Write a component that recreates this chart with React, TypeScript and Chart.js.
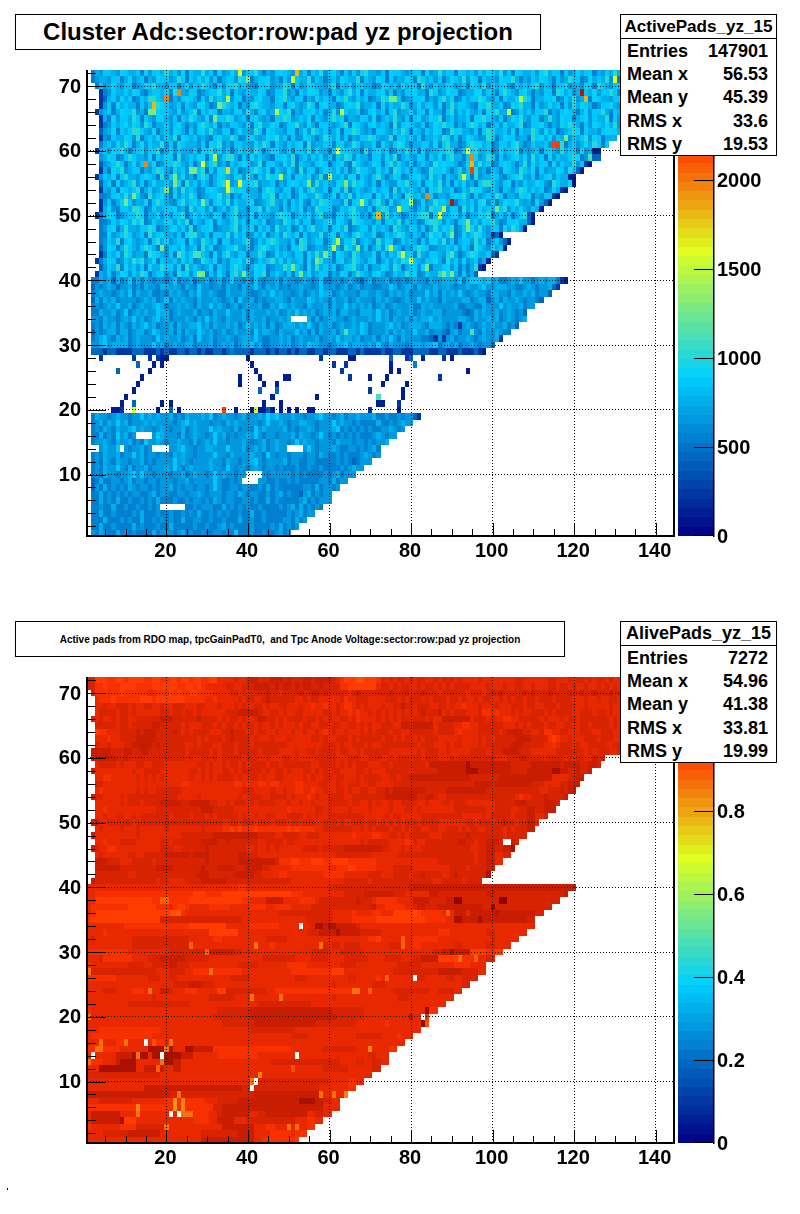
import { useEffect, useRef } from "react"
import { Chart, registerables } from "chart.js"

Chart.register(...registerables)

const xTicks = [20, 40, 60, 80, 100, 120, 140]
const yTicks = [10, 20, 30, 40, 50, 60, 70]
const adcScaleTicks = [0, 500, 1000, 1500, 2000]
const aliveScaleTicks = [0, 0.2, 0.4, 0.6, 0.8]

// level tables: one character per pad picks an entry, "." = empty, spaces only keep columns readable
const adcLevels = [130, 260, 420, 570, 670, 770, 860, 930, 1040, 1280]
const aliveLevels = [0.81, 0.865, 0.91, 0.935, 0.96, 0.98, 1.005, 1.03, 1.065, 1.11]

// last pad of each row, row 72 first (rows 28 - 20 only have the single pads below)
const adcRowEnds = [
  131, 131, 131, 131, 131, 131, 131, 131, 131, 131, 130, 128, 126, 126, 124, 122, 120, 120, 118, 116, 114, 112, 110, 110, 108, 102, 104, 103, 101, 99, 98, 96,
  118, 116, 114, 112, 110, 108, 108, 106, 104, 102, 100, 98,
  0, 0, 0, 0, 0, 0, 0, 0, 0,
  82, 80, 78, 76, 74, 72, 72, 70, 68, 66, 64, 62, 60, 60, 58, 56, 54, 52, 50,
]
const aliveRowEnds = [
  131, 131, 131, 131, 131, 131, 131, 131, 131, 131, 131, 131, 127, 126, 124, 122, 121, 120, 118, 116, 115, 113, 111, 110, 108, 106, 105, 104, 102, 100, 99, 97,
  120, 118, 116, 114, 112, 110, 110, 108, 106, 104, 102, 100, 98, 98, 96, 94, 92, 90, 88, 86, 84, 84,
  82, 80, 78, 76, 74, 74, 72, 70, 68, 66, 64, 62, 62, 60, 58, 56, 54, 52,
]

// first entry is row 72, last is row 1
const adcRows = [
  ".354665476 5563746658 5647365585 6374575646 6853546765 4756365846 7536464785 5463766545 6637458566 3765647576 5846376556 4785663645 7566354658 5476356645",
  ".345546635 7456354766 4586365757 4635664875 3566745364 7655846535 6476558365 4763645576 3865646357 6584763655 4766853546 5765364586 6347565846 3567465564",
  "..36457546 6345768554 6635746586 5364778565 4366745586 3645765546 8365746655 3476564756 6385465576 4563765846 5674365657 8465366745 5476386546 6745365585",
  "...1346556 5764356657 3865476345 6685736546 5576346684 5365776453 6546857365 5674635466 7553864576 6345577465 3686546753 5466387564 5365746686 3557465466",
  "...1256475 6346588657 3546765364 8565746635 4675536785 4663547565 3768546563 4587656345 6673546857 3465668754 6365574863 5566734658 4563765546 6835746563",
  "...1463756 5536465876 4563654775 3468656354 7865546636 7545863675 5346768455 6374655863 5746647358 5665437685 5634768553 6457563648 5765346675 4863576645",
  "..14563576 6845363766 5474568365 7635546648 5367455768 3546675635 8476556346 7563684557 4663755368 4657546376 8556347564 6683546765 3574668536 5467456365",
  "...1537466 5863654775 4636586547 3566874563 6754536687 4565736546 8673554664 7356585463 6745768356 4556377865 4635768546 6358547663 5674655836 4765365546",
  "...1346567 5764863556 4675354686 5735466547 3685576346 6854753665 4568376546 7565384676 5463576866 3546875635 6475568346 6753547686 5364765758 4635665476",
  "...2457365 6886547356 4765364675 8546635755 4863765546 6357486564 5736687545 3665475863 6546576348 6755463687 5564736558 6475634568 7365546776 5843665547",
  "...1436557 6483565746 5837656454 3675586346 7545768563 6447653586 5746354668 7545836657 4635565874 6357654486 3576645538 6757465346 5684763555 6746354858",
  "...3564758 6357465584 6376555463 7684536655 4758636546 5673845566 3674586455 6375468753 5566473685 5346877563 4665785346 5564768356 4575863645 5367486556",
  "..15647685 3567466835 7465546376 8564635756 4863577546 3665847553 6476655384 6756346585 6374556687 3465785563 4756683545 6367548566 3745668456 5374865546",
  "...4576346 8655473657 6384565773 6546885364 7565436675 8356465746 3658746553 6647583565 4763657468 5536774586 3645675748 5637465568 7346557586 4635766548",
  "...2456863 5746557346 6875463565 7845365676 4583665475 8365546763 5674386545 7636857546 3565486766 5347658563 4676535847 5663746558 4673565846 5376654485",
  "...1537684 5663546875 3756465683 6477556345 6865736547 5384663576 5746358665 4756387564 6534866753 5746684536 5376548657 3645576486 3565747658 4536675463",
  "..14657368 5546765384 6657453686 3576546748 5365867456 3665745836 5564773654 6853576346 6754856365 4766384557 6435678546 3567465583 6745656348 5763654576",
  "...2563745 6846357556 4673856465 3578645366 7845563546 7656348565 4763586754 6365447685 5636758463 6574536886 5467354655 7643865576 3465847563 5546763658",
  "...1546376 5683574566 3748565346 7655386764 5536875466 3574685563 6748356545 7566384657 5463768556 3465877546 5365468756 5634758654 6375546863 5674456385",
  "...3346758 5664385675 3746586345 6685735466 5547683656 3476558645 7365846566 3757465388 5646735546 7685364565 8635547673 5466385746 5563748656 4365786545",
  "...1463578 6455736865 4368567546 3675846556 7345685463 6574365876 5548367564 6853745665 3474586657 3565647846 3576685453 7465563865 7456346785 5463667548",
  "...1574366 5886347556 6745385664 7356468553 6684755364 6573548666 3465785546 3687455765 3564867546 6385747565 3684657546 5735566384 6745863565 5473765648",
  "..13576345 6687355746 4668357565 4763568454 7365546876 3565746845 3675686453 6748565346 5788364556 7463557683 5646357854 6635765846 3574665385 6745563466",
  "...3346576 5868346557 6475836546 7365468563 6657345486 5746635568 4765387655 4636758465 5347886465 3675564768 5346675548 6357465863 5467635574 8653465766",
  "...3467358 5546687345 6756483566 7345568465 7365648556 3474685563 6758345664 7565386547 6463585768 3465758546 6375864565 3746558346 7655386475 4563658467",
  "...3374568 6456385675 5463788546 3665847563 4657356486 5736455846 7365468655 7346568754 6535867465 3475687546 3654568735 6486345567 7546358675 5464736586",
  "...3465836 7545636857 4566375486 5736645568 3465786554 6387456635 7546683565 4857634656 5364775846 3566485735 6454768365 5463867546 3576548656 4736657485",
  "...2476358 6546875364 6657456385 7345668546 3578656453 6687345546 7538656463 5748665354 6876345565 7465386547 5634765846 3567485656 3474658365 7546865346",
  "...1365748 6455387654 6347568565 3746854663 5586347565 4663758546 3765486455 7364658567 3854665476 5346875563 4576386455 6745863565 3476548665 7354656846",
  "..13576346 5868457365 5647563486 5735466758 3465685746 5563746855 3674586546 7356465873 6546675385 6474563568 7546358647 5663745586 3576546486 3655747368",
  "...2465837 5646375586 6473856545 7365468653 5767345586 4653748565 6346785463 5576486356 6478355674 6353586746 5563748654 3665475863 5746566348 7565436678",
  "..15463576 4658735664 5386746553 6475368565 4768356546 3685745663 5476358654 6753465586 7346558674 5363546865 7436556784 6353675546 8465737556 3465866745",
  // rows 40 - 30
  ".33545253 4635354344 3463445244 5345346443 5364344535 4434543463 3443454324 5344534343 4544354455 5463566656 4533454644 3454553344",
  ".24345424 4534354435 5454354364 4344354435 4464354534 3445443464 4434534534 4334465345 5354445445 4344544564 4555443345 4344543454",
  ".34544345 4635445334 3545435464 4543354445 4334546454 4345345465 5345444355 4454354545 3444645354 5464345443 5544354454 5344544343",
  ".25354534 4443454534 6354544354 4454345364 4534344554 3544465454 3544534544 4354543345 4464544354 4445534552 4535445434 4344534454",
  ".34345464 4534544565 3445454354 4645434534 5445335465 4544354445 3544645454 5345345444 5335454444 4533443354 4464544534 4453445354",
  ".33544534 6345454465 5345444534 4354464445 3544454534 5464545345 4535544355 5464534544 5345445534 4443235454 4534543445",
  ".44354434 5464534564 5344454354 6454354445 3544534454 5464453534 5544345444 5464535445 3545564544 4455435445 4534543454",
  ".34354535 4354564534 4535445564 5354454534 6454535345 5545464354 5345445465 3444564534 5554355543 4314543454 5445344354",
  ".24345535 5345534654 4535354465 4534534544 5364554354 4464535354 4535455465 3444535454 4644534432 4534454354 4543445454",
  ".34564354 5345444364 5445345364 4534454345 5464334454 5345444534 5464554534 4535464354 4443321414 5344543454 4534454344",
  ".44564555 5345444645 3454455344 4534545345 5645334454 5345465544 3455645554 5464354443 4554556345 4534454344 4545344534",
  // row 29, the sparse rows 28 - 20 are in adcSinglePads
  ".22212211 1122211121 2112212212 1122123222 2122212122 1212211221 2211122121 1112112211 1222211221 1121112121",
  "", "", "", "", "", "", "", "", "",
  // rows 19 - 1
  ".35443454 4344645454 4534354445 4634544345 3445475644 4544344564 4345344544 4533433434 4344343434",
  ".34535464 5344454544 4434564544 4344354544 4443464454 3445544344 4645443433 3353343454 4344544343",
  ".34354354 4564544345 4344534544 4645443534 4364544445 3434454344 4563434343 4334454344",
  ".33534364 5344344465 4443534544 3464534344 5464344344 4535443464 3434343433 3454344343",
  ".34454354 4534364454 3445443534 5464434445 4334534544 3464544344 4354443443 4344534344",
  ".33454464 4344534454 3445644344 5544464445 3454534544 4443464344 4543344343 4534344354",
  ".34354453 4464534434 4354544344 4464435444 4544364344 3444344354 3343433345 4344534344",
  ".34354354 4344534344 4464543444 4544354434 4564344445 3443344333 3343432344 4534344354",
  ".34354464 3534453444 5464345444 4544364344 3454344343 3343343343 3334345443",
  ".34354434 4564644344 4344534544 3464544344 4464434444 4343433334 3453444344",
  ".23533443 4534434434 4434453444 4464334344 3534433433 4343333344 3534434344",
  ".24353434 3543443434 4534344344 3464334434 4334353433 3333443534 4344353434",
  ".33534343 4344334534 4334434454 3444344354 3443343453 4332453434 4353443434",
  ".33534353 3433434353 3343343443 4354344334 4343353433 3334534344 4345344353",
  ".33433533 4334334343 3533433434 4433534343 4334333343 4535343434",
  ".33533433 3343533343 3433434353 3434343343 3533433333 4345344353",
  ".33353334 3433533434 3433533443 3433433353 3433433334 4353434344",
  ".33533433 3353433343 3533333433 4334534333 3433334353 4344534343",
  ".43543353 4343333534 4434534334 3344343633 3433433453 4344353434",
].map((row) => row.replace(/ /g, ""))

// sparse and stand-out pads of the ADC panel: row, pad, value
const adcSinglePads: number[][] = [
  [28, 4, 260], [28, 12, 260], [28, 16, 260], [28, 18, 260], [28, 19, 130], [28, 20, 130], [28, 40, 130], [28, 58, 260], [28, 65, 130], [28, 66, 130], [28, 75, 420], [28, 79, 260], [28, 80, 420], [28, 83, 130], [28, 88, 260], [28, 90, 130],
  [27, 13, 420], [27, 17, 130], [27, 19, 130], [27, 41, 130], [27, 61, 260], [27, 64, 260], [27, 75, 130], [27, 81, 540],
  [26, 8, 420], [26, 16, 130], [26, 42, 130], [26, 63, 260], [26, 75, 130], [26, 77, 130], [26, 94, 130],
  [25, 14, 130], [25, 38, 130], [25, 43, 130], [25, 49, 130], [25, 50, 130], [25, 65, 260], [25, 70, 130], [25, 74, 130], [25, 87, 260],
  [24, 13, 130], [24, 38, 130], [24, 44, 130], [24, 47, 130], [24, 73, 130], [24, 79, 130],
  [23, 12, 130], [23, 43, 420], [23, 47, 420], [23, 70, 260], [23, 78, 130],
  [22, 10, 130], [22, 46, 130], [22, 57, 130], [22, 72, 1100], [22, 78, 130],
  [21, 9, 130], [21, 12, 420], [21, 19, 130], [21, 21, 130], [21, 44, 130], [21, 48, 130], [21, 72, 130], [21, 73, 130], [21, 77, 260],
  [20, 7, 130], [20, 8, 130], [20, 9, 260], [20, 12, 1620], [20, 18, 130], [20, 21, 420], [20, 23, 130], [20, 34, 2150], [20, 37, 130], [20, 41, 130], [20, 42, 1620], [20, 43, 130], [20, 44, 130], [20, 45, 420], [20, 46, 130], [20, 48, 130], [20, 50, 130], [20, 52, 130], [20, 55, 130], [20, 56, 130], [20, 70, 260], [20, 77, 130],
  [69, 23, 1960], [68, 20, 1960], [67, 17, 1800], [66, 16, 1280], [66, 17, 1280], [72, 38, 1620], [72, 52, 1800], [71, 51, 1490], [71, 40, 1280], [68, 35, 1490], [67, 33, 1280], [66, 47, 1490], [65, 32, 1280],
  [58, 15, 1960], [58, 29, 1620], [59, 32, 1490], [57, 35, 1700], [57, 26, 1280], [57, 27, 1280], [56, 22, 1280], [55, 22, 1280], [56, 48, 1490], [55, 35, 1620], [54, 35, 1620], [55, 38, 1620], [52, 29, 1280], [52, 10, 1280], [53, 12, 1280], [54, 20, 1280],
  [69, 122, 2430], [68, 123, 1800], [68, 107, 1490], [68, 75, 1280], [68, 76, 1280], [66, 63, 1490], [66, 104, 1490], [61, 115, 2150], [61, 116, 2150], [60, 62, 1620], [60, 94, 1620], [59, 95, 1960], [58, 95, 1800], [57, 95, 2150], [56, 93, 1620], [56, 60, 1490], [55, 64, 1280], [55, 55, 1280], [53, 84, 1960], [52, 68, 1490], [52, 80, 1490], [52, 90, 2430], [51, 77, 1620], [51, 88, 1490], [51, 101, 1280], [50, 72, 1800], [50, 87, 1620], [49, 94, 1280], [48, 94, 1280], [71, 130, 1620], [62, 118, 1280],
  [45, 75, 1490], [44, 78, 1490], [43, 80, 1620], [47, 90, 1280], [45, 67, 1280], [44, 90, 1100], [41, 88, 1280], [41, 90, 1280], [42, 84, 1280], [32, 64, 1100], [32, 95, 1100],
  [45, 19, 1280], [46, 62, 1490], [45, 61, 1490], [43, 57, 1280], [44, 59, 1280], [42, 51, 1280], [41, 53, 1280], [41, 28, 1280], [41, 29, 1280], [41, 39, 1280], [44, 23, 1100], [44, 27, 1100], [44, 28, 1100],
  // dark pads along the right edge
  [60, 126, 130], [60, 125, 130], [59, 124, 1100], [59, 125, 420], [59, 126, 420], [58, 123, 260], [58, 124, 130], [57, 122, 130], [57, 121, 420], [56, 120, 130], [56, 119, 130], [55, 120, 130], [54, 118, 130], [54, 117, 260], [53, 116, 130], [53, 115, 260], [52, 114, 130], [52, 113, 420], [51, 112, 130], [50, 110, 130], [50, 109, 420], [49, 110, 130], [49, 109, 420], [48, 108, 130], [47, 102, 130], [47, 101, 420], [47, 100, 260], [46, 104, 130], [46, 103, 420], [45, 103, 130], [44, 101, 260], [44, 100, 420], [43, 99, 130], [42, 98, 130], [42, 97, 260], [41, 96, 420],
  [40, 118, 130], [40, 117, 260], [39, 116, 260], [39, 115, 420], [38, 114, 420], [37, 112, 420], [35, 108, 420], [33, 106, 420], [32, 104, 540], [31, 102, 260], [30, 100, 420], [29, 98, 130], [19, 82, 260], [19, 81, 420],
]
// row, first pad, last pad
const adcGaps: number[][] = [[34, 51, 54], [16, 13, 16], [14, 2, 3], [14, 9, 9], [14, 17, 20], [14, 50, 53], [10, 40, 43], [9, 39, 42], [5, 19, 24]]

const aliveRows = [
  "6633344334 3333443344 3343343344 3355556556 7766677767 6667767777 6543332233 3465656656 5665565666 5655556555 5555566555 5556655565 6656566565 5565656565",
  "6644344433 3344443333 3344334345 5555665566 6777767677 6767766766 6644333333 3566565665 5656656565 6666555565 5565566556 5556656656 5565565656 5656565665",
  ".644444434 4444455444 3434433444 4555566565 6666766566 6676677676 6666567666 6666766676 6676665666 6665666567 6766666767 6667666676 6766766676 6766766676",
  "..54443444 4443334333 3333444445 5455555656 6556766666 6556566555 5564556665 5556665656 6656566656 6565565665 5656566566 5666566665 5565565566 5565565566",
  "..55655666 5655665565 5666555665 5565556565 5665655665 5565545545 5654456565 5565566766 5666556656 5545556555 6555666566 5566656666 5565555565 5565555565",
  "..56666566 5655555566 5665665655 5555666777 7765566565 5665555566 5655454556 5656565656 5676667565 6665556445 4555656556 6656566665 5666566565 5666566565",
  ".656556566 5566666677 7666666766 6656566565 5677665656 6665665656 5566564555 5656565665 6665655777 7777566656 5544556666 6565556566 5666666656 5566665556",
  "..66666566 5666667766 6665655566 6565665656 6565565655 5656655665 6655665656 5566655776 7777756666 5544556666 6655565656 6656655665 5665666656 5665666656",
  "..34455566 6676777666 6765656666 5556676665 6566556555 6556556545 6556555656 5666566556 6666656666 5455556666 6567777665 5644556655 5666556665 5666556665",
  "..55545566 6677777666 6666666565 6665676666 5655565556 5555566565 5666565666 6656656566 5656665555 5655556565 6666677776 6664345565 5566656665 5566656665",
  "..65565556 6777776766 6666556566 6556665666 5666666665 5555555566 6565566656 5566666666 6566655565 6655556566 6666777666 6655456665 6556666556 6556666556",
  ".777776667 7667766666 6666566666 5656665666 6656666555 5655665666 6566556566 6666555555 5656665565 5555666656 6677776665 5555566666 6656566655 6656566655",
  ".777777667 6666666666 6666565566 5656666656 6655655566 5655556666 6555666556 6655656665 6656665556 5666666666 5556667766 6656666565 6655767655 6656665556",
  "..56666565 5566556665 5555555665 6556566565 6666566566 6666655666 6565656665 5566566666 6665777777 7778777777 7777666667 7777776777 7667766667",
  ".755555555 5655666655 5555566565 6556656566 6665656656 5556656565 6655556656 5556666665 6666667777 7778887777 7777666677 7777887766 7667766667",
  "..55445555 5565656565 5555565565 6566665655 6656556655 5556565566 5665556566 6655665667 7777777777 7777666666 6777777777 7777555566 7767766667",
  "..66555555 5555555555 5554455555 5555554454 5544544555 5445555665 5655666556 6555566666 6666666666 6666677776 7777777776 6655556677 7866777667",
  "..54555555 5565655666 6665555555 5555555566 6555565565 5445545565 5665655665 5667677777 7776666677 7777777766 6666666666 6556667677 7667766677",
  ".766555565 6666666666 6655555655 5555555655 6665566665 6555456556 6665566666 6667777777 7667765566 6666666666 6666654556 6676666777",
  "..55555565 6665666677 7776677777 6655656665 6566665556 5565565556 6666566556 5655655666 6556555665 6665555555 6666677766 6677766667",
  "..55455555 5555555666 6666666677 7666665555 5555555554 5555556656 5555655556 5555655566 5655555555 6666666655 6666556677 6677766667",
  "..55655665 5656666666 5666656665 6566666565 5655665556 6665656556 6666666655 5556566555 5566666666 6655555656 6666566677 5566665566",
  ".775566666 6566666666 6666666666 6665566566 6566656665 6656665565 6565566656 6565656566 6566665555 5556656665 6676656677 5566665566",
  "..56555565 5565555556 5555555565 5554434344 4344444443 4344445566 6666655656 5666566565 6655665566 6565665566 6656566677",
  ".755555555 5565555555 5556666666 6777777777 7766665566 6655666555 5555545555 4455665656 6666555666 6667666666 6656666677",
  "..55455566 6655555566 5666666677 7766766666 6655666656 6555555555 5555555656 6666555544 6556666666 6776656677 7667766666",
  ".765544555 5555555566 6556666667 6666666665 5655656555 5556666566 6667777777 7766555656 5566666666 6666556677 6677766666",
  "..56555555 6655666667 7777767777 6666666776 6655555555 5555555555 5666666666 5555556666 6666666666 6666656677 5566665566",
  "..77766655 5666665666 6666666667 6666666777 7777776444 3344433344 3333444444 4555555555 5555556666 6666656677 5566665566",
  "..77777766 6666666777 7666666676 6677776667 7776655555 4444444445 5444334444 4555566666 5555555556 6665666677",
  "..66666666 5566666666 6666666777 6666667777 7665555445 5555555544 4445555556 6655566665 6676666556 7666666677",
  ".766666666 6666666566 5555666677 7777666666 6666666666 5555555555 5556666665 6666666666 6666655666 6656666677",
  // rows 40 - 1
  "5555555555 5555555555 5555555555 5555555445 5555555555 5555555556 6666666666 6666666667 7777777777 7777777777 7777777777 7777777777 7777777777",
  "5544444444 4444444444 4444443334 4443333333 3333333333 4445555555 5556666677 7777766655 5555776666 6666666677 6666666666 6666666777 7777777777",
  "5533333333 3333334444 4444433333 3333333344 5555777755 5544445666 6666667666 5444445555 7777666677 9966666666 6666666666 6666667777",
  "5444444444 3333333444 5433455555 4444455555 4444554444 5555566666 6666666666 7554444455 6776667777 7777777666 6666666666 6666777777",
  "5433333333 3333333333 2244555555 5555555555 5555555666 6666666666 5555545555 4455533333 2344444555 7775777777 7777777777 6666777777",
  "4333333333 3333333366 6666666666 6666666655 5555555555 5555666666 5555544444 4333333333 3334444455 8877778777 7777777766 6677777777",
  "5555555554 4444444444 4444433333 3333555555 4444444555 5555568878 8777776555 5555555555 5555555555 5555555555 5555555555 5555555566",
  "5555455555 5555555555 5555555555 3333333555 5555555555 5555666777 7877777666 6655555555 5555554445 5555555566 5555555566",
  "5655555555 5666666666 6666655555 5445555555 5555666665 5555555555 5555555554 4355555555 4444445555 5555555556 5555556666",
  "5555555555 5666666666 6666665555 5555555555 5555545555 5555555565 6656666555 5555666655 4455555555 6655555566 5555556666",
  "4444444444 5555555555 6666666666 7777776655 5555555555 5555566665 5566666655 5555555555 5555566778 7777333344 3333445566",
  "5556444444 4555566677 7777666666 5555555555 5556666666 6555566665 5556666665 5556666555 6677773333 3344445566 5566665566",
  "4555555555 6666556666 7766655555 5555555666 6655555554 4444555555 5566665555 5555556666 6655555555 4444555566",
  "5666666666 6666666555 6666554444 4444444455 5555555555 4444444444 3335555555 5555566666 6666667777 7766665566",
  "4444444555 5555566655 6655555555 5555566666 5555555555 5666555555 5555665555 5455555555 6665555566 5566665566",
  "5555555555 5555555555 5666677766 6555555555 5555555555 5555555555 6555555555 6665555555 5555555555 5566665566",
  "5555666555 5444555577 6555444555 5533666666 6666554444 4444444444 4444444555 5555566666 6666556666 5566665566",
  "5555555555 5555556555 5555555555 6666665555 5555555555 5555555555 6555555555 5555556665 5555555555 5566665566",
  "5555555555 6666666666 6666655555 5555555555 5566666666 6666655555 5555555555 5555555555 5555555565",
  "4555555555 5555555555 5555555555 5566666666 7777777777 7777777777 6666666655 5555555555 5554445566",
  "5555555555 5555555555 5555555555 5666666666 7777777777 7777777777 7666666655 5555555555 5554445566",
  "5555555555 5555555555 5555555555 5556666666 6777777777 7777776666 6666665555 5554555555 5566665566",
  "5554444444 4444444455 5555555555 5555555555 6666666666 6555555555 5555555555 5555555555 5566665566",
  "5444444444 4444445555 5555555555 5555555555 5555555555 6666555555 5555556666 6655554555 5566665566",
  "5555555445 5555552445 5555555555 5555555555 5555555555 5555555555 5555555555 5555555555 5566665566",
  "4444444455 5555588888 8555887777 7444444444 4444444444 5555555566 6666665555 5555445566",
  "5555555777 7888858888 8887775555 5544444444 4455555555 5555555555 5555555556 6555445566",
  "5444555788 8855555588 8775555555 5555555555 5555566666 6666666666 6655556655 6655445566",
  "5558888888 8855777775 5775555555 5555555555 5555555555 5555555566 6666555555 6655445566",
  "6666666666 6666666655 5555555555 5555555555 5555555555 5555555555 5555555555 5555445566",
  "5555555555 5555555555 5555555555 5555555555 5566666666 6666666665 5555445566",
  "5555555555 5555777777 7777777777 7777777766 6666666666 6666666555 5555445566",
  "7777777777 7777777777 6666666666 6666666666 6777777777 7777777755 5555445566",
  "5556666666 6555555554 4444444445 5566666777 7777777777 7788887766 5555445566",
  "4444444444 4444444444 4444444444 4667777777 7777777777 7777777755 5555445566",
  "5777777755 5555555555 5554444444 5567777777 5566777777 7777556655 5555445566",
  "5777777783 3355555555 5555554444 5577775556 6666666666 6555445566",
  "4555555544 4466666666 5555555555 5557777777 7555445555 5355445566",
  "5555666666 7777777755 5555555566 6666666777 7555544444 5444445566",
  "5555555555 5555555555 5555555577 7777777777 7554444444 4333333445",
].map((row) => row.replace(/ /g, ""))

// stand-out pads of the alive panel: row, pad, value (white pads are in aliveGaps)
const aliveSinglePads: number[][] = [
  [10, 41, 0.865], [11, 43, 0.84], [8, 58, 0.865], [8, 61, 0.865], [8, 64, 0.84], [7, 22, 0.81], [6, 22, 0.81], [7, 24, 0.84], [6, 24, 0.84], [8, 23, 0.865], [5, 24, 0.865], [5, 25, 0.865], [5, 26, 0.865], [6, 13, 0.84], [5, 13, 0.865],
  [16, 4, 0.865], [15, 4, 0.865], [15, 3, 0.865], [16, 10, 0.865], [16, 21, 0.865], [15, 20, 0.865], [14, 13, 0.865], [13, 19, 0.865], [13, 1, 0.865], [12, 18, 0.89], [27, 31, 0.865], [24, 16, 0.865], [23, 41, 0.865], [23, 48, 0.865], [27, 1, 0.865], [20, 1, 0.865], [3, 20, 0.865], [3, 52, 0.865], [3, 50, 0.865], [12, 51, 0.9],
  [38, 19, 0.89], [38, 20, 0.89], [36, 23, 0.89], [36, 22, 0.91], [31, 26, 0.89], [31, 42, 0.865], [31, 58, 0.865], [30, 30, 0.89], [24, 66, 0.865], [15, 70, 0.84], [29, 92, 0.865], [29, 96, 0.89], [24, 67, 0.865], [24, 70, 0.89], [26, 74, 0.89], [32, 78, 0.89], [31, 78, 0.89], [36, 89, 0.89],
  [38, 102, 1.11], [38, 103, 1.11], [37, 100, 1.08], [21, 84, 1.08], [19, 83, 1.08], [19, 84, 0.91], [20, 80, 1.05], [46, 105, 1.07], [42, 99, 1.07], [36, 101, 1.04],
]
const aliveGaps: number[][] = [[47, 103, 104], [34, 53, 53], [26, 81, 81], [20, 83, 83], [16, 15, 15], [14, 2, 2], [14, 19, 19], [14, 52, 52], [10, 42, 42], [9, 41, 41], [5, 21, 21], [5, 23, 23]]

const adcStats = [["Entries", "147901"], ["Mean x", "56.53"], ["Mean y", "45.39"], ["RMS x", "33.6"], ["RMS y", "19.53"]]
const aliveStats = [["Entries", "7272"], ["Mean x", "54.96"], ["Mean y", "41.38"], ["RMS x", "33.81"], ["RMS y", "19.99"]]

const FONT = '"Liberation Sans", Arial, sans-serif'
const PANEL_HEIGHT = 607

type Cell = { x: number; y: number; v: number }

function buildCells(rows: string[], rowEnds: number[], levels: number[], singles: number[][], gaps: number[][]) {
  const cells = new Map<string, Cell>()
  rows.forEach((text, i) => {
    const row = 72 - i
    Array.from(text.slice(0, rowEnds[i])).forEach((c, j) => {
      if (c === ".") return
      cells.set(row + ":" + (j + 1), { x: j + 1, y: row, v: levels[parseInt(c, 36)] })
    })
  })
  singles.forEach(([row, pad, v]) => cells.set(row + ":" + pad, { x: pad, y: row, v }))
  gaps.forEach(([row, from, to]) => {
    for (let pad = from; pad <= to; pad++) cells.delete(row + ":" + pad)
  })
  return Array.from(cells.values())
}

// the ROOT rainbow palette, 50 contours
const paletteStops = [0, 0.34, 0.61, 0.84, 1]
const paletteR = [0, 0, 0.87, 1, 0.51]
const paletteG = [0, 0.81, 1, 0.2, 0]
const paletteB = [0.51, 1, 0.12, 0, 0]

function paletteColor(fraction: number) {
  const t = (Math.min(Math.floor(fraction * 50), 49) + 0.5) / 50
  let i = 0
  while (i < 3 && t > paletteStops[i + 1]) i++
  const f = (t - paletteStops[i]) / (paletteStops[i + 1] - paletteStops[i])
  const mix = (c: number[]) => Math.round((c[i] + (c[i + 1] - c[i]) * f) * 255)
  return `rgb(${mix(paletteR)},${mix(paletteG)},${mix(paletteB)})`
}

const heatmapPlugin = {
  id: "heatmap",
  beforeDraw(chart: any, _args: any, opts: any) {
    const { ctx, scales } = chart
    ctx.save()
    for (const cell of chart.data.datasets[0].data as Cell[]) {
      const left = Math.round(scales.x.getPixelForValue(cell.x - 0.5))
      const right = Math.round(scales.x.getPixelForValue(cell.x + 0.5))
      const top = Math.round(scales.y.getPixelForValue(cell.y + 0.5))
      const bottom = Math.round(scales.y.getPixelForValue(cell.y - 0.5))
      ctx.fillStyle = paletteColor(cell.v / opts.zMax)
      ctx.fillRect(left, top, right - left, bottom - top)
    }
    ctx.restore()
  },
  afterDraw(chart: any, _args: any, opts: any) {
    const { ctx, chartArea, scales } = chart
    const { left, right, top, bottom } = chartArea
    ctx.save()
    ctx.fillStyle = "#000"
    // frame
    ctx.fillRect(left - 1, top, 2, bottom - top + 1)
    ctx.fillRect(right - 1, top, 2, bottom - top + 1)
    ctx.fillRect(left - 1, bottom - 1, right - left + 2, 2)
    // axis ticks point into the plot
    for (let pad = 5; pad <= 140; pad += 5) {
      const px = Math.round(scales.x.getPixelForValue(pad))
      const len = pad % 20 === 0 ? 13 : 7
      ctx.fillRect(px, bottom - len, 1, len)
    }
    for (let row = 2; row <= 72; row += 2) {
      const py = Math.round(scales.y.getPixelForValue(row))
      const len = row % 10 === 0 ? 19 : 9
      ctx.fillRect(left, py, len, 1)
    }
    // colour scale
    const barLeft = right + 4
    const barRight = right + 39
    const zMax = opts.zMax
    for (let i = 0; i < 50; i++) {
      const y0 = Math.round(scales.z.getPixelForValue((zMax * i) / 50))
      const y1 = Math.round(scales.z.getPixelForValue((zMax * (i + 1)) / 50))
      ctx.fillStyle = paletteColor((i + 0.5) / 50)
      ctx.fillRect(barLeft, y1, barRight - barLeft, y0 - y1)
    }
    ctx.fillStyle = "#000"
    ctx.fillRect(barRight, top, 1.5, bottom - top + 1)
    for (const value of opts.zTicks as number[]) {
      const py = Math.round(scales.z.getPixelForValue(value))
      ctx.fillRect(barRight - 19, value === 0 ? py - 1 : py, 19, 1)
    }
    ctx.restore()
  },
}

const tickFont = { family: FONT, weight: "bold" as const, size: 20 }

function HeatPanel({ rows, rowEnds, levels, singles, gaps, zMax, zTicks }: any) {
  const canvasRef = useRef<HTMLCanvasElement>(null)

  useEffect(() => {
    if (!canvasRef.current) return
    const chart = new Chart(canvasRef.current, {
      type: "scatter",
      data: {
        datasets: [{ data: buildCells(rows, rowEnds, levels, singles, gaps), pointRadius: 0 }],
      },
      options: {
        animation: false,
        responsive: false,
        devicePixelRatio: 1,
        layout: { padding: { top: 70 } },
        plugins: {
          legend: { display: false },
          tooltip: { enabled: false },
          heatmap: { zMax, zTicks },
        },
        scales: {
          x: {
            type: "linear",
            min: 0.5,
            max: 144.5,
            afterFit: (s: any) => { s.height = 71 },
            afterBuildTicks: (s: any) => { s.ticks = xTicks.map((value) => ({ value })) },
            grid: { color: "#000", lineWidth: 1, drawTicks: false },
            border: { display: false, dash: [1, 2] },
            ticks: { color: "#000", font: tickFont, padding: 3, labelOffset: -1, maxRotation: 0, autoSkip: false, callback: (v: any) => String(v) },
          },
          y: {
            type: "linear",
            min: 0.5,
            max: 72.5,
            afterFit: (s: any) => { s.width = 87 },
            afterBuildTicks: (s: any) => { s.ticks = yTicks.map((value) => ({ value })) },
            grid: { color: "#000", lineWidth: 1, drawTicks: false },
            border: { display: false, dash: [1, 2] },
            ticks: { color: "#000", font: tickFont, padding: 6, labelOffset: 1, autoSkip: false, callback: (v: any) => String(v) },
          },
          z: {
            type: "linear",
            position: "right",
            min: 0,
            max: zMax,
            afterFit: (s: any) => { s.width = 126 },
            afterBuildTicks: (s: any) => { s.ticks = zTicks.map((value: number) => ({ value })) },
            grid: { display: false, drawTicks: false },
            border: { display: false },
            ticks: { color: "#000", font: tickFont, padding: 43, labelOffset: 1, autoSkip: false, callback: (v: any) => String(v) },
          },
        },
      },
      plugins: [heatmapPlugin],
    } as any)
    return () => chart.destroy()
  }, [rows, rowEnds, levels, singles, gaps, zMax, zTicks])

  return <canvas ref={canvasRef} width={800} height={PANEL_HEIGHT} style={{ display: "block", width: 800, height: PANEL_HEIGHT }} />
}

const boxStyle = { position: "absolute", boxSizing: "border-box", border: "1.5px solid #000", background: "#fff", fontFamily: FONT, fontWeight: "bold", color: "#000" } as const

function TitleBox({ top, width, size, text }: { top: number; width: number; size: number; text: string }) {
  return (
    <div style={{ ...boxStyle, left: 15, top, width, height: 36, fontSize: size, display: "flex", alignItems: "center", justifyContent: "center", whiteSpace: "pre" }}>
      {text}
    </div>
  )
}

function StatsBox({ top, name, nameSize, stats }: { top: number; name: string; nameSize: number; stats: string[][] }) {
  return (
    <div style={{ ...boxStyle, left: 620, top, width: 157, height: 142, fontSize: 18, overflow: "hidden" }}>
      <div style={{ height: 23, lineHeight: "23px", fontSize: nameSize, textAlign: "center", borderBottom: "1.5px solid #000" }}>{name}</div>
      {stats.map(([label, value], i) => (
        <div key={label} style={{ position: "absolute", left: 6, right: 8, top: 24.6 + i * 23.3, height: 23, lineHeight: "23px", display: "flex", justifyContent: "space-between" }}>
          <span>{label}</span>
          <span>{value}</span>
        </div>
      ))}
    </div>
  )
}

export default function App() {
  return (
    <div style={{ position: "absolute", left: 0, top: 0, width: 800, height: 1214, background: "#fff", overflow: "hidden" }}>
      <HeatPanel rows={adcRows} rowEnds={adcRowEnds} levels={adcLevels} singles={adcSinglePads} gaps={adcGaps} zMax={2618} zTicks={adcScaleTicks} />
      <HeatPanel rows={aliveRows} rowEnds={aliveRowEnds} levels={aliveLevels} singles={aliveSinglePads} gaps={aliveGaps} zMax={1.123} zTicks={aliveScaleTicks} />
      <TitleBox top={14} width={526} size={24} text="Cluster Adc:sector:row:pad yz projection" />
      <TitleBox top={621} width={550} size={10} text="Active pads from RDO map, tpcGainPadT0,  and Tpc Anode Voltage:sector:row:pad yz projection" />
      <StatsBox top={14} name="ActivePads_yz_15" nameSize={17.1} stats={adcStats} />
      <StatsBox top={621} name="AlivePads_yz_15" nameSize={18} stats={aliveStats} />
      <div style={{ position: "absolute", left: 7, top: 1188, width: 1, height: 2, background: "#000" }} />
    </div>
  )
}
